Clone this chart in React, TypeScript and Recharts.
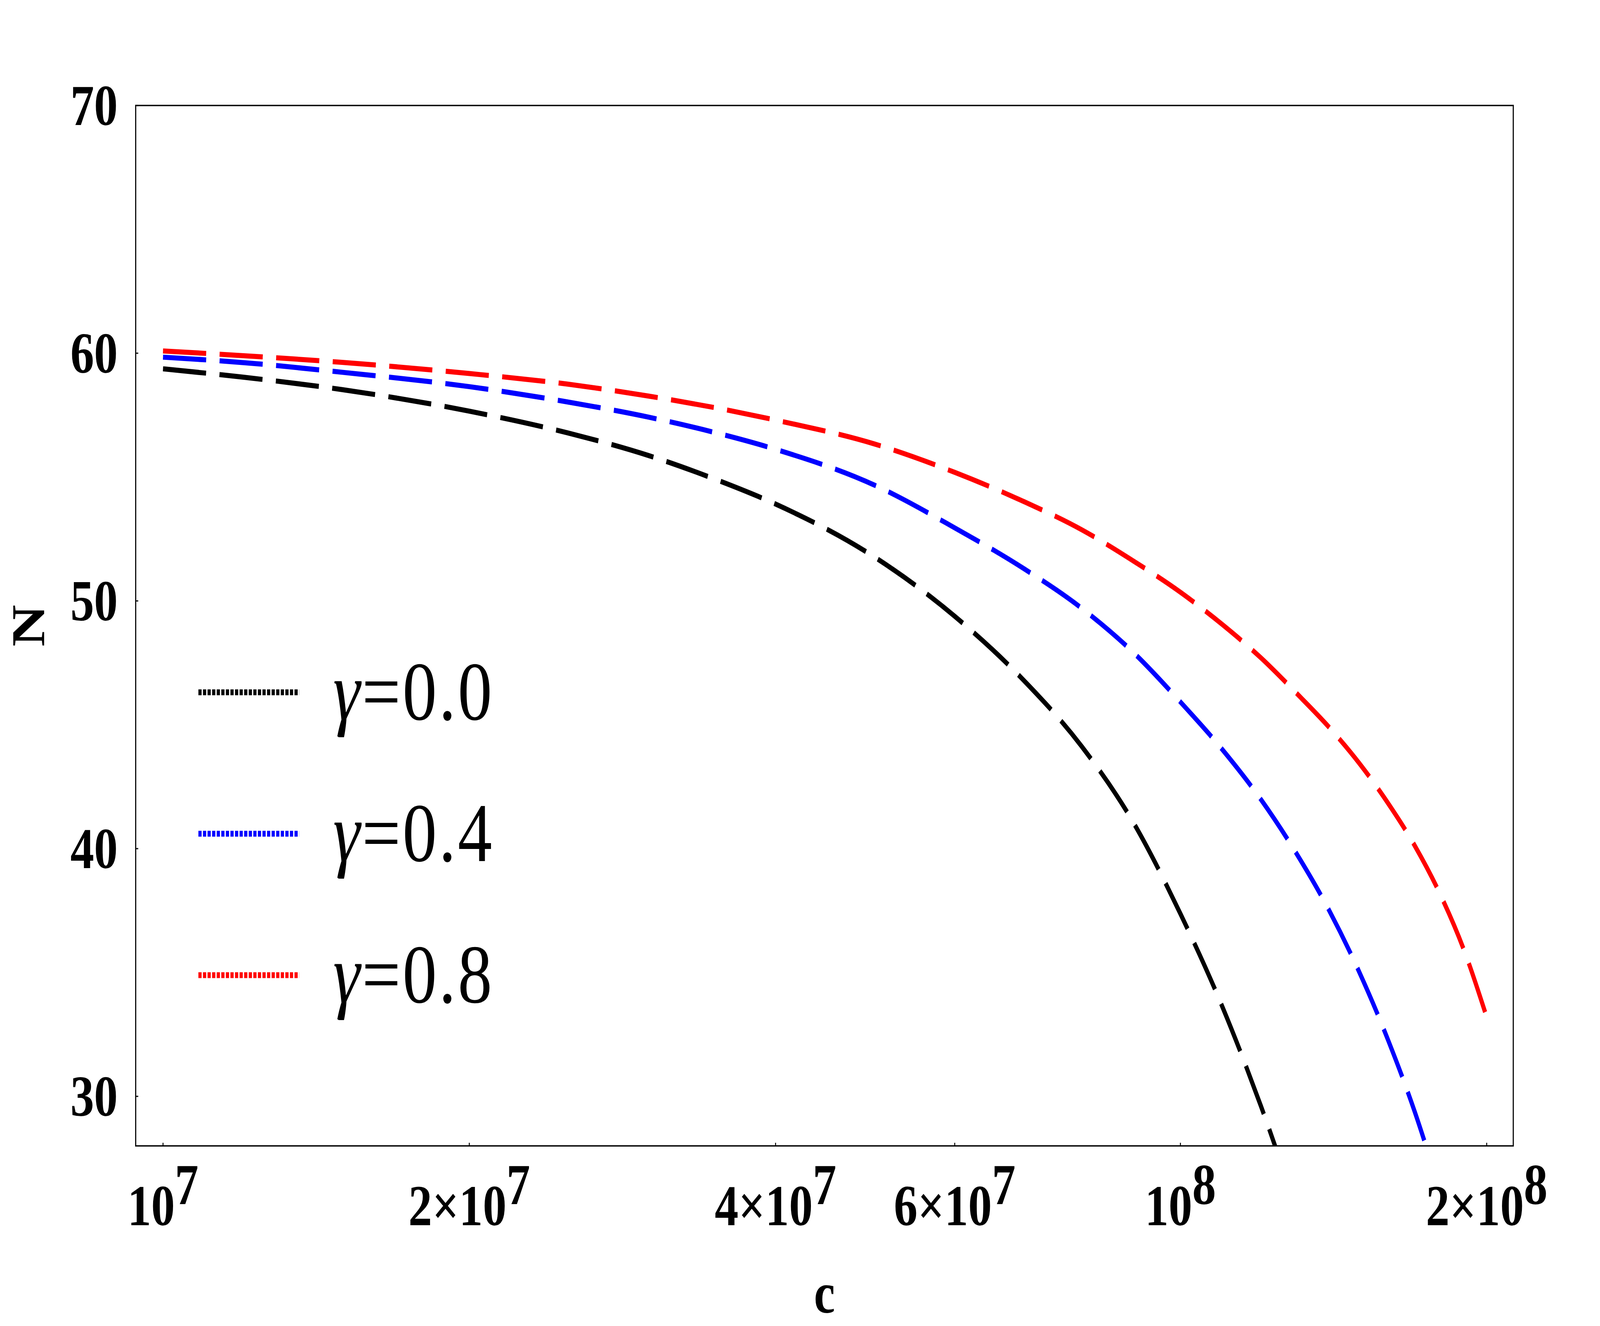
import { LineChart, Line, XAxis, YAxis, ReferenceArea } from "recharts";

// values
const C_VALUES = [
  1e7, 1.2e7, 1.5e7, 2e7, 2.5e7, 3e7, 3.5e7, 4e7, 5e7, 6e7, 7e7, 8e7, 9e7,
  1e8, 1.1e8, 1.2e8, 1.3e8, 1.4e8, 1.5e8, 1.6e8, 1.7e8, 1.8e8, 1.9e8, 2e8,
];
const N_GAMMA_00 = [
  59.37, 59.03, 58.53, 57.66, 56.78, 55.87, 54.89, 53.91, 51.78, 49.38, 46.83, 44.12, 41.02,
  37.37, 33.6, 29.6, 25.5,
];
const N_GAMMA_04 = [
  59.84, 59.62, 59.23, 58.65, 58.03, 57.42, 56.78, 56.12, 54.68, 52.95, 51.33, 49.7, 47.9,
  45.92, 43.99, 41.98, 39.81, 37.51, 34.99, 32.27, 29.36, 26.16,
];
const N_GAMMA_08 = [
  60.09, 59.9, 59.63, 59.18, 58.75, 58.27, 57.79, 57.3, 56.34, 55.19, 54.03, 52.87, 51.6,
  50.35, 49.04, 47.7, 46.28, 44.9, 43.43, 41.83, 40.11, 38.16, 35.9, 33.2,
];

const X_DOMAIN = [9.4e6, 2.124e8];
const Y_DOMAIN = [28, 70];
const X_TICKS = [1e7, 2e7, 4e7, 6e7, 1e8, 2e8];
const X_TICK_MANTISSA = ["", "2×", "4×", "6×", "", "2×"];
const X_TICK_EXP = ["7", "7", "7", "7", "8", "8"];
const Y_TICKS = [30, 40, 50, 60, 70];

const SERIES = [
  { key: "g00", value: "0.0", color: "#000000", values: N_GAMMA_00 },
  { key: "g04", value: "0.4", color: "#0000ff", values: N_GAMMA_04 },
  { key: "g08", value: "0.8", color: "#ff0000", values: N_GAMMA_08 },
];

const data = C_VALUES.map((c, i) => {
  const row: Record<string, number | null> = { c };
  SERIES.forEach((s) => {
    row[s.key] = i < s.values.length ? s.values[i] : null;
  });
  return row;
});

const W = 5000;
const H = 3394;
const FONT = "'Liberation Serif', 'Times New Roman', serif";
const TICK_SIZE = 148;

function XTick(props: any) {
  const { x, y, payload } = props;
  const i = X_TICKS.indexOf(payload.value);
  return (
    <g>
      <line x1={x} x2={x} y1={y} y2={y - 8} stroke="#000" strokeWidth={3} />
      <text
        x={x}
        y={y + 203}
        textAnchor="middle"
        fontFamily={FONT}
        fontWeight="bold"
        fontSize={TICK_SIZE}
        fill="#000"
      >
        <tspan>{X_TICK_MANTISSA[i] + "10"}</tspan>
        <tspan dy={-54}>{X_TICK_EXP[i]}</tspan>
      </text>
    </g>
  );
}

function YTick(props: any) {
  const { x, y, payload } = props;
  return (
    <g>
      <line x1={x} x2={x + 8} y1={y} y2={y} stroke="#000" strokeWidth={3} />
      <text
        x={x - 56}
        y={y + 50}
        textAnchor="end"
        fontFamily={FONT}
        fontWeight="bold"
        fontSize={TICK_SIZE}
        fill="#000"
      >
        {payload.value}
      </text>
    </g>
  );
}

function Legend() {
  return (
    <svg
      width={1100}
      height={1150}
      style={{ position: "absolute", left: 560, top: 1550 }}
    >
      {SERIES.map((s, i) => {
        const cy = 222 + i * 362;
        return (
          <g key={s.key}>
            <line
              x1={60}
              x2={375}
              y1={cy}
              y2={cy}
              stroke={s.color}
              strokeWidth={15}
              strokeDasharray="10 4.3"
            />
            <text
              x={481}
              y={cy + 70}
              fontFamily={FONT}
              fontSize={214}
              letterSpacing={6}
              fill="#000"
            >
              <tspan fontStyle="italic">γ</tspan>
              <tspan>{"=" + s.value}</tspan>
            </text>
          </g>
        );
      })}
    </svg>
  );
}

export default function App() {
  // the browser caps the window width (4096 px), so the 5000x3394 drawing is
  // fitted to the viewport that the page really gets
  const vw = typeof window !== "undefined" ? window.innerWidth : W;
  const vh = typeof window !== "undefined" ? window.innerHeight : H;
  const sx = vw / W;
  const sy = vh / H;
  return (
    <div
      style={{
        position: "absolute",
        left: 0,
        top: 0,
        width: vw,
        height: vh,
        overflow: "hidden",
        background: "#fff",
      }}
    >
      <style>{"html,body{margin:0;overflow:hidden;background:#fff}"}</style>
      <div
        style={{
          position: "absolute",
          left: 0,
          top: 0,
          width: W,
          height: H,
          transform: `scale(${sx}, ${sy})`,
          transformOrigin: "0 0",
        }}
      >
        <LineChart
          width={W}
          height={H}
          data={data}
          margin={{ top: 270, right: 271, bottom: 161, left: 124 }}
        >
          <XAxis
            dataKey="c"
            type="number"
            scale="log"
            domain={X_DOMAIN}
            allowDataOverflow
            ticks={X_TICKS}
            interval={0}
            height={300}
            axisLine={false}
            tickLine={false}
            tickSize={0}
            tickMargin={0}
            tick={(p: any) => <XTick {...p} />}
            label={(p: any) => {
              const vb = p.viewBox;
              return (
                <text
                  x={vb.x + vb.width / 2}
                  y={vb.y + 427}
                  textAnchor="middle"
                  fontFamily={FONT}
                  fontWeight="bold"
                  fontSize={TICK_SIZE}
                  fill="#000"
                >
                  c
                </text>
              );
            }}
          />
          <YAxis
            type="number"
            domain={Y_DOMAIN}
            allowDataOverflow
            ticks={Y_TICKS}
            interval={0}
            width={300}
            axisLine={false}
            tickLine={false}
            tickSize={0}
            tickMargin={0}
            tick={(p: any) => <YTick {...p} />}
            label={(p: any) => {
              const vb = p.viewBox;
              const cx = vb.x - 36;
              const cy = vb.y + vb.height / 2;
              return (
                <text
                  x={cx}
                  y={cy}
                  transform={`rotate(-90 ${cx} ${cy})`}
                  textAnchor="middle"
                  dominantBaseline="central"
                  fontFamily={FONT}
                  fontWeight="bold"
                  fontSize={TICK_SIZE}
                  fill="#000"
                >
                  N
                </text>
              );
            }}
          />
          <ReferenceArea
            x1={X_DOMAIN[0]}
            x2={X_DOMAIN[1]}
            y1={Y_DOMAIN[0]}
            y2={Y_DOMAIN[1]}
            fill="none"
            stroke="#000"
            strokeWidth={3.5}
            fillOpacity={0}
          />
          {SERIES.map((s) => (
            <Line
              key={s.key}
              dataKey={s.key}
              type="monotone"
              stroke={s.color}
              strokeWidth={13}
              strokeDasharray="135 42"
              dot={false}
              activeDot={false}
              connectNulls={false}
              isAnimationActive={false}
            />
          ))}
        </LineChart>
        <Legend />
      </div>
    </div>
  );
}
